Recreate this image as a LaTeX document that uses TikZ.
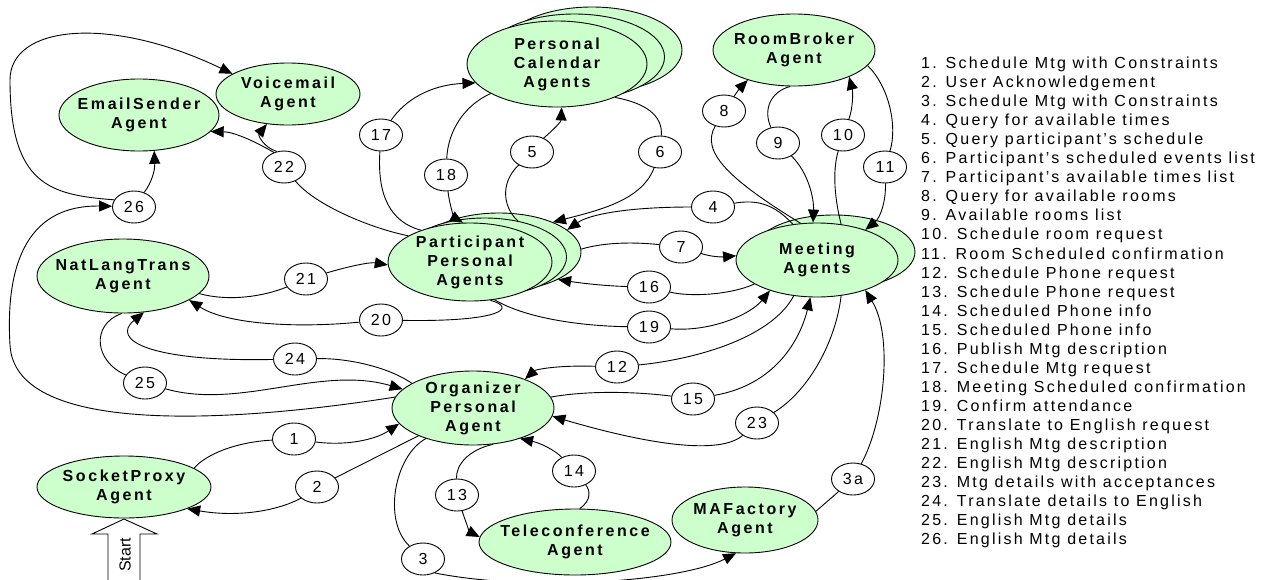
\documentclass[tikz,border=0pt]{standalone}
\usepackage{fontspec}
\setmainfont{Liberation Sans}
\newfontfamily\agfont[LetterSpace=16]{Liberation Sans}
\newfontfamily\lgfont[LetterSpace=14]{Liberation Sans}
\usetikzlibrary{shapes.geometric,arrows.meta}
\definecolor{agentgreen}{HTML}{CCFFCC}
\tikzset{
  agent/.style={ellipse, draw=black, line width=0.9pt, fill=agentgreen, inner sep=0pt},
  agtxt/.style={font={\agfont\bfseries\fontsize{16}{19}\selectfont}, align=center, inner sep=0pt},
  msg/.style={ellipse, draw=black, line width=0.9pt, fill=white, minimum width=43pt, minimum height=32pt, inner sep=0pt, font={\lgfont\fontsize{16}{18}\selectfont}},
  flow/.style={line width=0.9pt, -{Triangle[length=13pt,width=11pt]}},
  link/.style={line width=0.9pt},
  legend/.style={anchor=base west, inner sep=0pt, font={\lgfont\fontsize{16}{19}\selectfont}},
}
\begin{document}
\begin{tikzpicture}[x=1pt,y=-1pt]
\useasboundingbox (0,0) rectangle (1276,579);

% agents
\node[agent, minimum width=144pt, minimum height=62pt, label={[agtxt]center:Voicemail\\Agent}] (voice) at (288,94) {};
\node[agent, minimum width=160pt, minimum height=72pt, label={[agtxt]center:EmailSender\\Agent}] (email) at (139,115) {};
\node[agent, minimum width=172pt, minimum height=74pt, label={[agtxt]center:NatLangTrans\\Agent}] (nat) at (123,276) {};
\node[agent, minimum width=174pt, minimum height=62pt, label={[agtxt]center:SocketProxy\\Agent}] (sock) at (124,487) {};
\node[agent, minimum width=180pt, minimum height=86pt] (cal3) at (592,50) {};
\node[agent, minimum width=180pt, minimum height=86pt] (cal2) at (574.5,57) {};
\node[agent, minimum width=180pt, minimum height=86pt, label={[agtxt]center:Personal\\Calendar\\Agents}] (cal) at (557,64) {};
\node[agent, minimum width=162pt, minimum height=72pt, label={[agtxt]center:RoomBroker\\Agent}] (room) at (794,50) {};
\node[agent, minimum width=164pt, minimum height=78pt] (part3) at (499,252) {};
\node[agent, minimum width=164pt, minimum height=78pt] (part2) at (484.5,257) {};
\node[agent, minimum width=164pt, minimum height=78pt, label={[agtxt]center:Participant\\Personal\\Agents}] (part) at (470,262) {};
\node[agent, minimum width=162pt, minimum height=74pt] (meet2) at (834,252) {};
\node[agent, minimum width=162pt, minimum height=74pt, label={[agtxt]center:Meeting\\Agents}] (meet) at (817,260) {};
\node[agent, minimum width=162pt, minimum height=74pt, label={[agtxt]center:Organizer\\Personal\\Agent}] (org) at (473,408) {};
\node[agent, minimum width=192pt, minimum height=66pt, label={[agtxt]center:Teleconference\\Agent}] (tele) at (575,542) {};
\node[agent, minimum width=146pt, minimum height=66pt, label={[agtxt]center:MAFactory\\Agent}] (maf) at (745,520) {};

% start arrow
\draw[line width=0.9pt, fill=white] (108,580) -- (108,534) -- (92,534) -- (124,519) -- (157,534) -- (140,534) -- (140,580);
\node[rotate=90, inner sep=0pt, font={\fontsize{16}{18}\selectfont}] (start) at (125,555) {Start};

% message labels
\node[msg] (l1) at (294,439) {1};
\node[msg] (l2) at (317,487) {2};
\node[msg] (l3) at (423,559) {3};
\node[msg] (l3a) at (853,479) {3a};
\node[msg] (l4) at (713,207) {4};
\node[msg] (l5) at (532,152) {5};
\node[msg] (l6) at (660,152) {6};
\node[msg] (l7) at (681,247) {7};
\node[msg] (l8) at (724,111) {8};
\node[msg] (l9) at (778,143) {9};
\node[msg] (l10) at (843,135) {10};
\node[msg] (l11) at (885,167) {11};
\node[msg] (l12) at (617,367) {12};
\node[msg] (l13) at (457,495) {13};
\node[msg] (l14) at (574,471) {14};
\node[msg] (l15) at (693,399) {15};
\node[msg] (l16) at (649,287) {16};
\node[msg] (l17) at (381,135) {17};
\node[msg] (l18) at (446,175) {18};
\node[msg] (l19) at (649,327) {19};
\node[msg] (l20) at (381,320) {20};
\node[msg] (l21) at (306,279) {21};
\node[msg] (l22) at (284,167) {22};
\node[msg] (l23) at (757,423) {23};
\node[msg] (l24) at (295,359) {24};
\node[msg] (l25) at (145,383) {25};
\node[msg] (l26) at (134,207) {26};

% 1
\draw[link] (sock.15) .. controls (205,455) and (235,442) .. (l1);
\draw[flow] (l1) .. controls (345,446) and (375,440) .. (org.192);
% 2
\draw[link] (org.207) -- (l2);
\draw[flow] (l2.215) .. controls (275,512) and (235,517) .. (sock.-19);
% 3
\draw[link] (org.213) .. controls (395,455) and (382,520) .. (l3);
\draw[flow] (l3.-50) .. controls (530,592) and (680,582) .. (maf.255);
% 3a
\draw[link] (maf.7) -- (l3a);
\draw[flow] (l3a) .. controls (885,420) and (893,335) .. (meet.-32);
% 4
\draw[link] (meet.124) .. controls (775,205) and (758,199) .. (l4);
\draw[flow] (l4) .. controls (630,207) and (590,214) .. (part3.18);
% 5
\draw[link] (part2.47) .. controls (505,210) and (498,185) .. (l5);
\draw[flow] (l5.50) .. controls (553,130) and (561,122) .. (cal.-84);
% 6
\draw[link] (cal.-30) .. controls (645,103) and (663,115) .. (l6);
\draw[flow] (l6) .. controls (642,200) and (600,210) .. (part3.29);
% 7
\draw[link] (part3.2) .. controls (605,242) and (635,242) .. (l7);
\draw[flow] (l7) .. controls (712,257) and (722,257) .. (meet.177);
% 8
\draw[link] (meet.114) .. controls (730,180) and (700,152) .. (l8);
\draw[flow] (l8) .. controls (737,92) and (740,88) .. (room.213);
% 9
\draw[link] (room.264) .. controls (770,92) and (763,110) .. (l9);
\draw[flow] (l9) .. controls (808,172) and (814,198) .. (meet.96);
% 10
\draw[link] (meet.56) .. controls (835,200) and (832,172) .. (l10);
\draw[flow] (l10) .. controls (853,108) and (853,92) .. (room.-26);
% 11
\draw[link] (room.-12) .. controls (888,85) and (898,125) .. (l11);
\draw[flow] (l11) .. controls (886,202) and (880,218) .. (meet.32);
% 12
\draw[link] (meet.237) .. controls (770,340) and (690,360) .. (l12);
\draw[flow] (l12) .. controls (555,365) and (535,370) .. (org.29);
% 13
\draw[link] (org.-61) .. controls (468,450) and (456,465) .. (l13);
\draw[flow] (l13) .. controls (465,520) and (470,532) .. (tele.177);
% 14
\draw[link] (tele.82) .. controls (592,500) and (590,490) .. (l14);
\draw[flow] (l14) .. controls (555,450) and (540,443) .. (org.-33);
% 15
\draw[link] (org.8) .. controls (590,390) and (640,392) .. (l15);
\draw[flow] (l15) .. controls (775,385) and (800,340) .. (meet.-100);
% 16
\draw[link] (meet.201) .. controls (730,295) and (690,297) .. (l16);
\draw[flow] (l16) .. controls (605,286) and (580,283) .. (part3.-25);
% 17
\draw[link] (part.147) .. controls (390,222) and (377,195) .. (l17);
\draw[flow] (l17) .. controls (405,100) and (430,85) .. (cal.193);
% 18
\draw[link] (cal.204) .. controls (465,105) and (448,130) .. (l18);
\draw[flow] (l18) .. controls (450,208) and (455,218) .. (part.100);
% 19
\draw[link] (part.-57) .. controls (525,318) and (580,326) .. (l19);
\draw[flow] (l19) .. controls (710,332) and (750,315) .. (meet.213);
% 20
\draw[link] (part.-62) .. controls (518,308) and (500,322) .. (l20);
\draw[flow] (l20) .. controls (300,328) and (228,325) .. (nat.-20);
% 21
\draw[link] (nat.-13) .. controls (230,302) and (265,296) .. (l21);
\draw[flow] (l21) .. controls (350,266) and (370,262) .. (part.182);
% 22
\draw[link] (part.157) .. controls (370,228) and (315,205) .. (l22);
\draw[flow] (l22.125) .. controls (258,143) and (235,132) .. (email.-13);
\draw[flow] (l22.115) .. controls (263,147) and (258,135) .. (voice.235);
% 23
\draw[link] (meet.-56) .. controls (836,340) and (810,390) .. (l23);
\draw[flow] (l23) .. controls (720,455) and (650,445) .. (org.-6);
% 24
\draw[link] (org.158) .. controls (390,368) and (350,358) .. (l24);
\draw[flow] (l24) .. controls (150,362) and (110,340) .. (nat.-60);
% 25
\draw[link] (nat.-92) .. controls (90,325) and (95,362) .. (l25);
\draw[flow] (l25) .. controls (240,410) and (320,365) .. (org.165);
% 26
\coordinate (b26a) at (10,345);
\coordinate (b26b) at (10,80);
\draw[flow] (org.172) .. controls (250,420) and (15,440) .. (b26a) .. controls (5,260) and (30,205) .. (l26.178);
\draw[flow] (l26.55) .. controls (152,182) and (155,170) .. (email.-67);
\draw[flow] (l26.160) .. controls (50,195) and (10,185) .. (b26b) .. controls (10,25) and (110,15) .. (voice.160);

% legend
\foreach \t [count=\i] in {
1. Schedule Mtg with Constraints,
2. User Acknowledgement,
3. Schedule Mtg with Constraints,
4. Query for available times,
5. Query participant’s schedule,
6. Participant’s scheduled events list,
7. Participant’s available times list,
8. Query for available rooms,
9. Available rooms list,
10. Schedule room request,
11. Room Scheduled confirmation,
12. Schedule Phone request,
13. Schedule Phone request,
14. Scheduled Phone info,
15. Scheduled Phone info,
16. Publish Mtg description,
17. Schedule Mtg request,
18. Meeting Scheduled confirmation,
19. Confirm attendance,
20. Translate to English request,
21. English Mtg description,
22. English Mtg description,
23. Mtg details with acceptances,
24. Translate details to English,
25. English Mtg details,
26. English Mtg details}
  \node[legend] (leg\i) at (921,49.45+19.05*\i) {\t};
\end{tikzpicture}
\end{document}
